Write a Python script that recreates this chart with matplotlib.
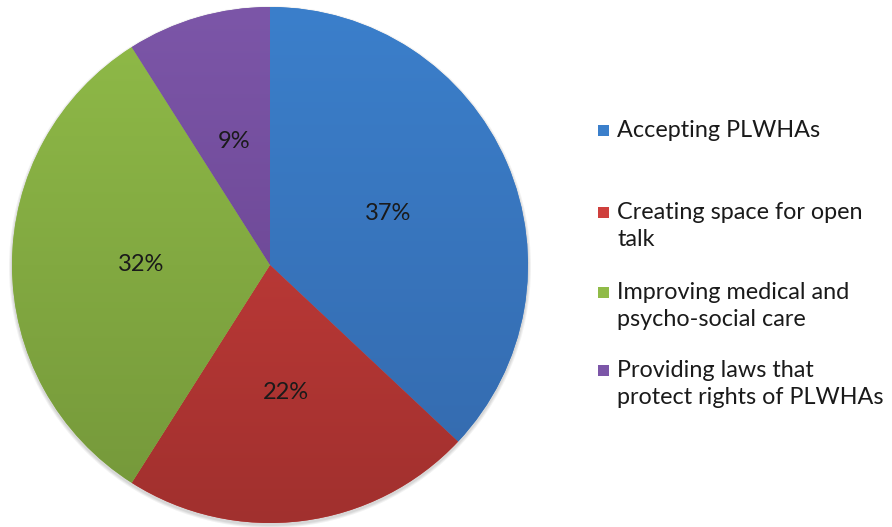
import numpy as np
import matplotlib.pyplot as plt
from matplotlib.patches import Rectangle, Circle
from matplotlib.colors import LinearSegmentedColormap

labels = ["Accepting PLWHAs",
          "Creating space for open\ntalk",
          "Improving medical and\npsycho-social care",
          "Providing laws that\nprotect rights of PLWHAs"]
values = [37, 22, 32, 9]
# top / bottom shade of each slice (vertical gradient, Excel 2007 look)
tops = ["#3b7fcb", "#cf403d", "#90bb48", "#7c56a8"]
bottoms = ["#3469ac", "#a1302e", "#74973a", "#643f8a"]

plt.rcParams['font.family'] = ['Lato', 'DejaVu Sans']

W, H = 892, 527
fig = plt.figure(figsize=(W / 100, H / 100), dpi=100)
# one axes over the whole figure, in pixel units (y up)
ax = fig.add_axes([0, 0, 1, 1])

cx, cy, r = 270, H - 265, 258

# soft shadow behind the pie
for k, a in enumerate([0.05, 0.05, 0.06]):
    ax.add_patch(Circle((cx, cy - 2), r + 3 - k, color='black', alpha=a,
                        lw=0, zorder=0))

wedges, texts, autotexts = ax.pie(values, startangle=90, counterclock=False,
                                  radius=r, center=(cx, cy), frame=True,
                                  colors=tops, autopct='%1.0f%%', pctdistance=0.5,
                                  wedgeprops=dict(linewidth=0),
                                  textprops=dict(fontsize=17, color='#1a1a1a'))
for w, t, b in zip(wedges, tops, bottoms):
    cmap = LinearSegmentedColormap.from_list('g', [b, t])
    grad = np.linspace(0, 1, 256).reshape(-1, 1)
    im = ax.imshow(grad, extent=(cx - r, cx + r, cy - r, cy + r), origin='lower',
                   cmap=cmap, aspect='auto', zorder=w.get_zorder() + 0.1)
    im.set_clip_path(w)
for t in autotexts:
    t.set_zorder(5)
ax.set_xlim(0, W)
ax.set_ylim(0, H)
ax.set_aspect('auto')
ax.axis('off')

# legend, drawn by hand so the square sits on the first text line
y_px = [130, 212, 292, 370]
for lab, col, yp in zip(labels, tops, y_px):
    ax.add_patch(Rectangle((598, H - yp - 6), 11, 11, color=col, lw=0))
    ax.text(617, H - yp + 10, lab, fontsize=16.8, color='#1a1a1a',
            va='top', ha='left', linespacing=1.33)

fig.savefig("out.png", dpi=100)
